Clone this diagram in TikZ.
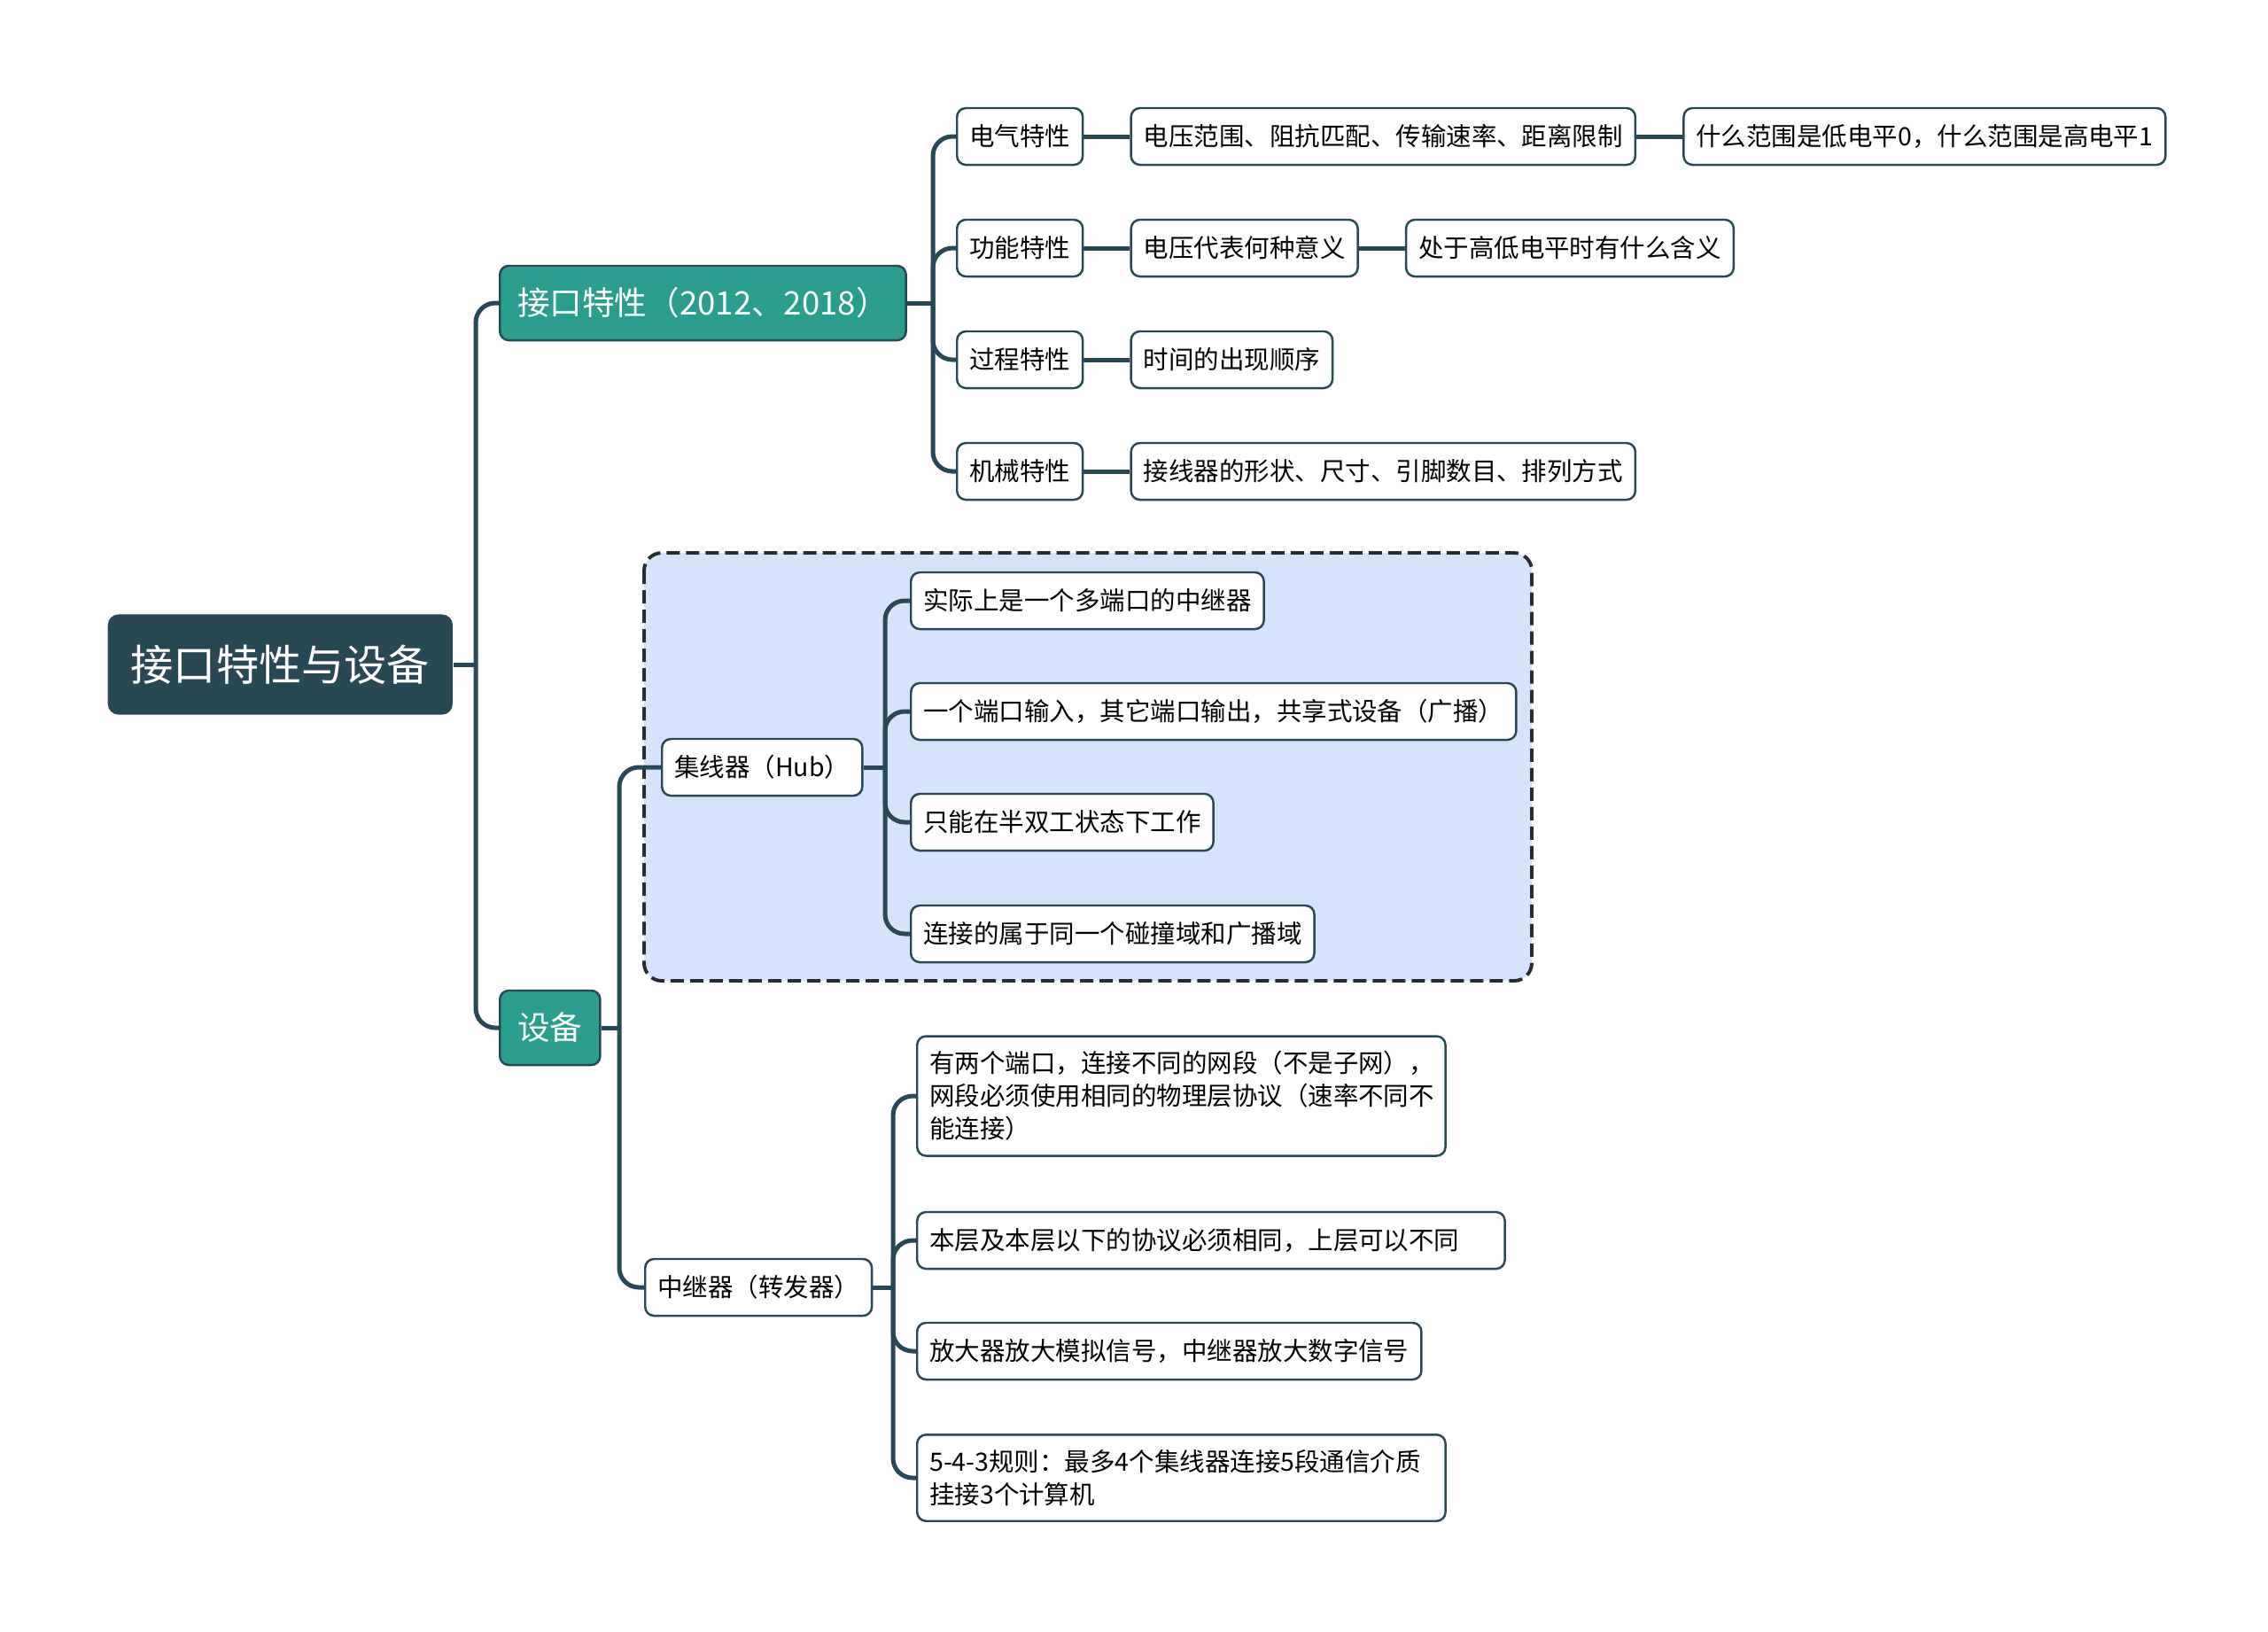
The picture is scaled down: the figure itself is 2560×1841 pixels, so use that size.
\documentclass[tikz,border=0pt]{standalone}
\usepackage{fontspec}
\setmainfont{Noto Sans CJK SC}
\usetikzlibrary{positioning}
\definecolor{mm_dark}{RGB}{39,72,84}
\definecolor{mm_teal}{RGB}{42,157,143}
\definecolor{mm_blue}{RGB}{213,228,252}
\definecolor{mm_dash}{RGB}{40,44,48}

\begin{document}
\begin{tikzpicture}[x=0.01cm, y=-0.01cm,
    link/.style={draw=mm_dark, line width=1.42pt},
    elbow/.style={link, rounded corners=0.22cm},
    rootbox/.style={fill=mm_dark, text=white, rounded corners=0.12cm,
      inner xsep=0.26cm, minimum height=1.13cm, anchor=west,
      font=\fontsize{13.7}{16}\selectfont},
    mainbox/.style={fill=mm_teal, draw=mm_dark, line width=0.7pt, text=white,
      rounded corners=0.1cm, inner xsep=0.2cm, minimum height=0.84cm,
      anchor=west, font=\fontsize{10.4}{12.5}\selectfont},
    leaf/.style={fill=white, draw=mm_dark, line width=0.7pt,
      rounded corners=0.1cm, inner xsep=0.14cm, inner ysep=0.1cm,
      minimum height=0.64cm, anchor=west, align=left,
      font=\fontsize{8.1}{10.5}\selectfont},
    tallleaf/.style={leaf, inner ysep=0.17cm}]
  \useasboundingbox (0,0) rectangle (2560,1841);
  \fill[white] (0,0) rectangle (2560,1841);

  \draw[fill=mm_blue, draw=mm_dash, line width=1.1pt, rounded corners=0.2cm,
    dash pattern=on 0.15cm off 0.07cm] (727,624) rectangle (1729,1107);

  \node[rootbox] (root) at (121,750) {接口特性与设备};
  \node[mainbox] (iface) at (563,342) {接口特性（2012、2018）};
  \node[mainbox] (dev) at (563,1160) {设备};

  \node[leaf] (elec) at (1079,154) {电气特性};
  \node[leaf] (func) at (1079,280) {功能特性};
  \node[leaf] (proc) at (1079,406) {过程特性};
  \node[leaf] (mech) at (1079,532) {机械特性};
  \node[leaf, right=0.52cm of elec] (elec1) {电压范围、阻抗匹配、传输速率、距离限制};
  \node[leaf, right=0.52cm of elec1] (elec2) {什么范围是低电平0，什么范围是高电平1};
  \node[leaf, right=0.52cm of func] (func1) {电压代表何种意义};
  \node[leaf, right=0.52cm of func1] (func2) {处于高低电平时有什么含义};
  \node[leaf, right=0.52cm of proc] (proc1) {时间的出现顺序};
  \node[leaf, right=0.52cm of mech] (mech1) {接线器的形状、尺寸、引脚数目、排列方式};

  \node[leaf] (hub) at (746,866) {集线器（Hub）};
  \node[leaf] (hub1) at (1027,678) {实际上是一个多端口的中继器};
  \node[leaf] (hub2) at (1027,803) {一个端口输入，其它端口输出，共享式设备（广播）};
  \node[leaf] (hub3) at (1027,928) {只能在半双工状态下工作};
  \node[leaf] (hub4) at (1027,1054) {连接的属于同一个碰撞域和广播域};

  \node[leaf] (rep) at (727,1453) {中继器（转发器）};
  \node[tallleaf, text width=5.68cm] (rep1) at (1034,1237)
    {有两个端口，连接不同的网段（不是子网），\\网段必须使用相同的物理层协议（速率不同不\\能连接）};
  \node[leaf, text width=6.35cm] (rep2) at (1034,1400)
    {本层及本层以下的协议必须相同，上层可以不同};
  \node[leaf] (rep3) at (1034,1525) {放大器放大模拟信号，中继器放大数字信号};
  \node[tallleaf, text width=5.68cm] (rep4) at (1034,1668)
    {5-4-3规则：最多4个集线器连接5段通信介质\\挂接3个计算机};

  \coordinate (jroot) at (537,750);
  \coordinate (jiface) at (1053,342);
  \coordinate (jdev) at (699,1160);
  \coordinate (jhub) at (999,866);
  \coordinate (jrep) at (1008,1453);

  \draw[link] (root.east) -- (jroot);
  \foreach \c in {iface,dev}
    \draw[elbow] (jroot) |- (\c.west);
  \draw[link] (iface.east) -- (jiface);
  \foreach \c in {elec,func,proc,mech}
    \draw[elbow] (jiface) |- (\c.west);
  \draw[link] (elec) -- (elec1);
  \draw[link] (elec1) -- (elec2);
  \draw[link] (func) -- (func1);
  \draw[link] (func1) -- (func2);
  \draw[link] (proc) -- (proc1);
  \draw[link] (mech) -- (mech1);
  \draw[link] (dev.east) -- (jdev);
  \foreach \c in {hub,rep}
    \draw[elbow] (jdev) |- (\c.west);
  \draw[link] (hub.east) -- (jhub);
  \foreach \c in {hub1,hub2,hub3,hub4}
    \draw[elbow] (jhub) |- (\c.west);
  \draw[link] (rep.east) -- (jrep);
  \foreach \c in {rep1,rep2,rep3,rep4}
    \draw[elbow] (jrep) |- (\c.west);
\end{tikzpicture}
\end{document}
